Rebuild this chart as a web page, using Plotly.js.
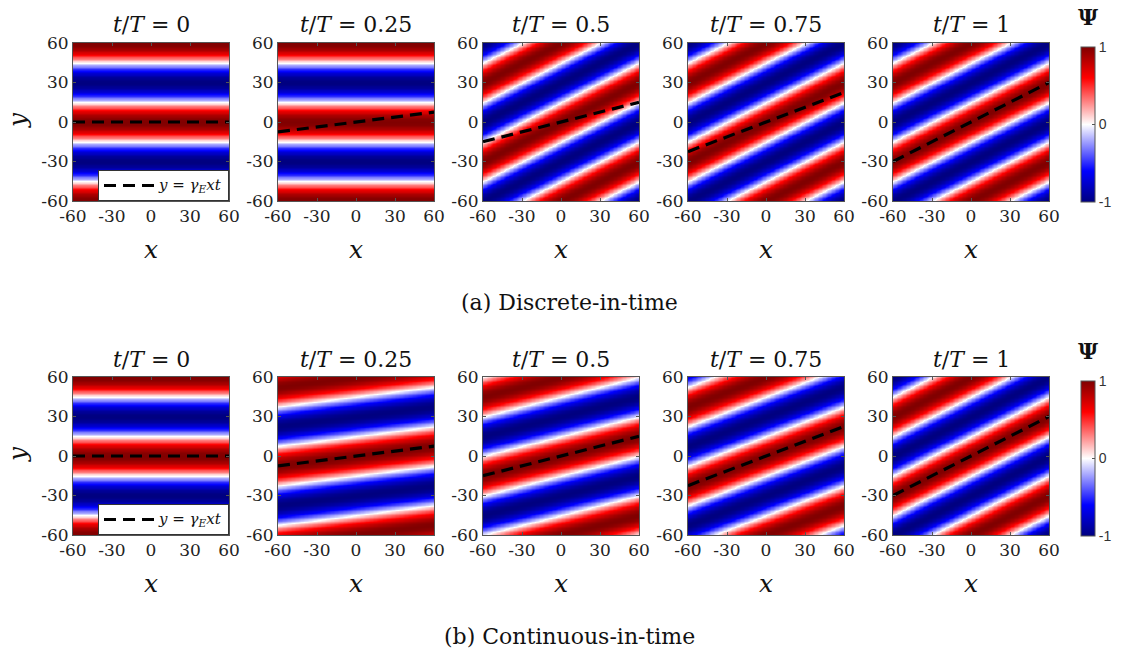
<!DOCTYPE html>
<html>
<head>
<meta charset="utf-8">
<script src="https://cdn.plot.ly/plotly-3.0.1.min.js"></script>
<style>html,body{margin:0;padding:0;background:#fff;}#plot{width:1121px;height:653px;}</style>
</head>
<body>
<div id="plot"></div>
<script>
// ---- values ----
const tOverT = [0, 0.25, 0.5, 0.75, 1];
const panelTitles = ['0', '0.25', '0.5', '0.75', '1'];
// tilt (dy/dx) of the stripes of Psi in each panel
const stripeTiltDiscrete = [0, 0, 0.5, 0.5, 0.5];
const stripeTiltContinuous = [0, 0.125, 0.25, 0.375, 0.5];
// slope of the dashed line y = gamma_E x t
const dashedLineSlope = [0, 0.125, 0.25, 0.375, 0.5];
const stripeWavelengthY = 60;   // vertical period of the stripes
const axisTicks = [-60, -30, 0, 30, 60];
const colorbarTicks = [-1, 0, 1];
const rowCaptions = ['(a) Discrete-in-time', '(b) Continuous-in-time'];
const legendLabel = '<span style="font-size:15px"><i>y</i> = <i>γ<sub>E</sub>xt</i></span>';

// ---- layout geometry (pixels) ----
const W = 1121, H = 653;
const colLeft = [73, 278, 483, 688, 893];
const panelW = 156, panelH = 158;
const rowTop = [43, 377];
const serif = '"DejaVu Serif", "Liberation Serif", serif';
const sans = '"Liberation Sans", Arial, sans-serif';

const colorscale = [
  [0, 'rgb(0,0,128)'],
  [0.2, 'rgb(0,0,255)'],
  [0.5, 'rgb(255,255,255)'],
  [0.8, 'rgb(255,0,0)'],
  [1, 'rgb(128,0,0)']
];

// grid coordinates
const gx = [], gy = [];
for (let v = -60; v <= 60; v += 1) { gx.push(v); gy.push(v); }

function field(tilt) {
  const z = [];
  for (let j = 0; j < gy.length; j++) {
    const row = [];
    for (let i = 0; i < gx.length; i++) {
      row.push(Math.cos(2 * Math.PI * (gy[j] - tilt * gx[i]) / stripeWavelengthY));
    }
    z.push(row);
  }
  return z;
}

const data = [];
const layout = {
  width: W, height: H,
  margin: {l: 0, r: 0, t: 0, b: 0},
  paper_bgcolor: '#fff', plot_bgcolor: '#fff',
  showlegend: true,
  annotations: [],
  font: {family: serif, color: '#222'}
};

const tilts = [stripeTiltDiscrete, stripeTiltContinuous];
for (let r = 0; r < 2; r++) {
  for (let c = 0; c < 5; c++) {
    const n = r * 5 + c + 1;
    const xa = 'x' + (n === 1 ? '' : n), ya = 'y' + (n === 1 ? '' : n);
    const xk = 'xaxis' + (n === 1 ? '' : n), yk = 'yaxis' + (n === 1 ? '' : n);
    data.push({
      type: 'heatmap', x: gx, y: gy, z: field(tilts[r][c]),
      coloraxis: r === 0 ? 'coloraxis' : 'coloraxis2',
      zsmooth: 'best', xaxis: xa, yaxis: ya, hoverinfo: 'skip'
    });
    const s = dashedLineSlope[c];
    data.push({
      type: 'scatter', mode: 'lines',
      x: [-60, 60], y: [-60 * s, 60 * s],
      xaxis: xa, yaxis: ya,
      line: {color: '#000', width: 3.2, dash: '12px,7px'},
      name: legendLabel,
      showlegend: c === 0,
      legend: r === 0 ? 'legend' : 'legend2'
    });
    const axCommon = {
      range: [-60, 60], tickvals: axisTicks, ticktext: axisTicks.map(String),
      showgrid: false, zeroline: false, showline: true, mirror: 'ticks',
      linecolor: '#555', linewidth: 1, ticks: 'inside', ticklen: 3, tickcolor: '#555',
      tickfont: {family: serif, size: 17, color: '#222'}, fixedrange: true
    };
    layout[xk] = Object.assign({}, axCommon, {
      domain: [colLeft[c] / W, (colLeft[c] + panelW) / W], anchor: ya
    });
    layout[yk] = Object.assign({}, axCommon, {
      domain: [1 - (rowTop[r] + panelH) / H, 1 - rowTop[r] / H], anchor: xa
    });
    // panel title
    layout.annotations.push({
      xref: 'paper', yref: 'paper', x: (colLeft[c] + panelW / 2) / W, y: 1 - (rowTop[r] - 18) / H,
      xanchor: 'center', yanchor: 'middle', showarrow: false,
      text: '<i>t</i>/<i>T</i> = ' + panelTitles[c],
      font: {family: serif, size: 22, color: '#111'}
    });
    // x label
    layout.annotations.push({
      xref: 'paper', yref: 'paper', x: (colLeft[c] + panelW / 2) / W, y: 1 - (rowTop[r] + panelH + 48) / H,
      xanchor: 'center', yanchor: 'middle', showarrow: false,
      text: '<i>x</i>', font: {family: serif, size: 25, color: '#111'}
    });
  }
  // y label
  layout.annotations.push({
    xref: 'paper', yref: 'paper', x: 17 / W, y: 1 - (rowTop[r] + panelH / 2 - 2) / H,
    xanchor: 'center', yanchor: 'middle', showarrow: false, textangle: -90,
    text: '<i>y</i>', font: {family: serif, size: 25, color: '#111'}
  });
  // Psi label
  layout.annotations.push({
    xref: 'paper', yref: 'paper', x: 1088 / W, y: 1 - (rowTop[r] - 26) / H,
    xanchor: 'center', yanchor: 'middle', showarrow: false,
    text: '<b>Ψ</b>', font: {family: serif, size: 22, color: '#111'}
  });
  // caption
  layout.annotations.push({
    xref: 'paper', yref: 'paper', x: 569 / W, y: 1 - (rowTop[r] + 259) / H,
    xanchor: 'center', yanchor: 'middle', showarrow: false,
    text: rowCaptions[r], font: {family: serif, size: 22, color: '#111'}
  });
  const ca = {
    colorscale: colorscale, cmin: -1, cmax: 1,
    colorbar: {
      x: 1081 / W, xanchor: 'left', thickness: 14, thicknessmode: 'pixels',
      len: 155, lenmode: 'pixels', y: 1 - (rowTop[r] + 4 + 155 / 2) / H, yanchor: 'middle',
      tickvals: colorbarTicks, ticktext: colorbarTicks.map(String),
      tickfont: {family: sans, size: 14, color: '#333'},
      outlinecolor: '#555', outlinewidth: 1, ticks: 'inside', ticklen: 3, tickcolor: '#555',
      xpad: 0, ypad: 0
    }
  };
  layout[r === 0 ? 'coloraxis' : 'coloraxis2'] = ca;
  const lg = {
    x: 229 / W, xanchor: 'right', y: 1 - (rowTop[r] + panelH) / H, yanchor: 'bottom',
    bgcolor: '#fff', bordercolor: '#333', borderwidth: 1,
    font: {family: serif, size: 11, color: '#111'},
    itemwidth: 50, tracegroupgap: 0
  };
  layout[r === 0 ? 'legend' : 'legend2'] = lg;
}

Plotly.newPlot('plot', data, layout, {staticPlot: true, displayModeBar: false});
</script>
</body>
</html>
